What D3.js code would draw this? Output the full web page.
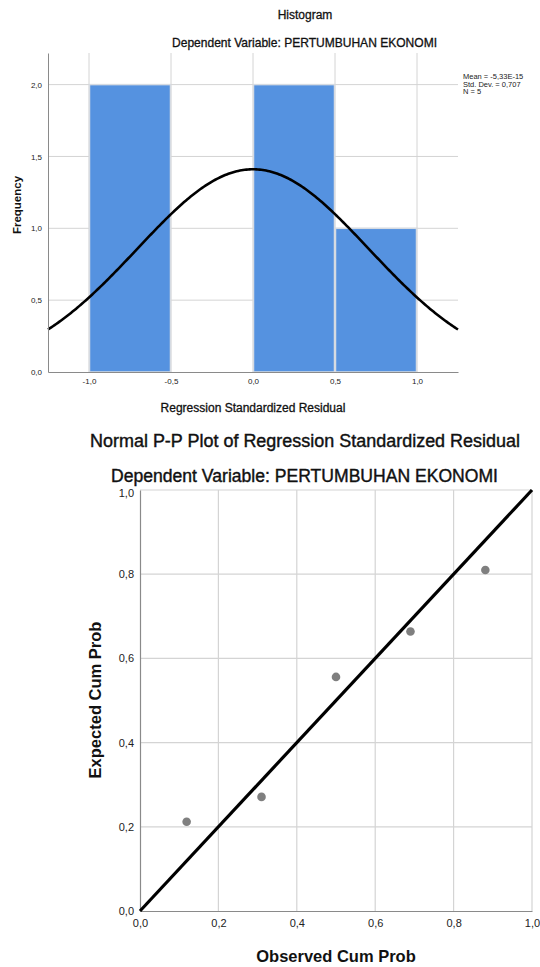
<!DOCTYPE html>
<html>
<head>
<meta charset="utf-8">
<script src="https://cdn.jsdelivr.net/npm/d3@7"></script>
<style>
  html, body { margin: 0; padding: 0; background: #fff; }
  svg { display: block; font-family: "Liberation Sans", Arial, sans-serif; }
</style>
</head>
<body>
<svg id="chart" width="540" height="967"></svg>
<script>
// ---------- Histogram data ----------
const histTitle = "Histogram";
const depTitle = "Dependent Variable: PERTUMBUHAN EKONOMI";
const binStarts = [-1.0, -0.5, 0.0, 0.5];
const binEnds   = [-0.5,  0.0, 0.5, 1.0];
const binCounts = [2, 0, 2, 1];
const histXTicks = [-1.0, -0.5, 0.0, 0.5, 1.0];
const histYTicks = [0.0, 0.5, 1.0, 1.5, 2.0];
const statsLines = ["Mean = -5,33E-15", "Std. Dev. = 0,707", "N = 5"];
const fitMean = 0;
const fitSd = 0.707;
const fitN = 5;
const fitBinWidth = 0.5;

// ---------- P-P plot data ----------
const ppTitle = "Normal P-P Plot of Regression Standardized Residual";
const observedCum = [0.119, 0.310, 0.500, 0.690, 0.881];
const expectedCum = [0.212, 0.271, 0.556, 0.664, 0.810];
const ppTicks = [0.0, 0.2, 0.4, 0.6, 0.8, 1.0];

const fmt = d => d3.format(".1f")(d).replace("\u2212", "-").replace(".", ",");
const svg = d3.select("#chart");

// ================= Histogram =================
{
  const x = d3.scaleLinear().domain([-1.25, 1.25]).range([48, 458]);
  const y = d3.scaleLinear().domain([0, 2.22]).range([372, 53]);
  const g = svg.append("g");

  // grid
  g.append("g").selectAll("line").data(histXTicks).join("line")
    .attr("x1", d => x(d)).attr("x2", d => x(d))
    .attr("y1", y.range()[0]).attr("y2", y.range()[1])
    .attr("stroke", "#d4d4d4").attr("stroke-width", 1);
  g.append("g").selectAll("line").data(histYTicks.filter(d => d > 0)).join("line")
    .attr("x1", x.range()[0]).attr("x2", x.range()[1])
    .attr("y1", d => y(d)).attr("y2", d => y(d))
    .attr("stroke", "#d4d4d4").attr("stroke-width", 1);

  // bars
  const bins = binStarts.map((s, i) => ({ s, e: binEnds[i], c: binCounts[i] })).filter(b => b.c > 0);
  g.append("g").selectAll("rect").data(bins).join("rect")
    .attr("x", d => x(d.s) + 0.5)
    .attr("width", d => x(d.e) - x(d.s) - 1)
    .attr("y", d => y(d.c))
    .attr("height", d => y(0) - y(d.c))
    .attr("fill", "#5592e0")
    .attr("stroke", "#d6dbe2").attr("stroke-width", 1.5);

  // fitted normal curve (from the stated mean, std. dev. and N)
  const dens = v => fitN * fitBinWidth / (fitSd * Math.sqrt(2 * Math.PI)) * Math.exp(-0.5 * Math.pow((v - fitMean) / fitSd, 2));
  const xs = d3.range(-1.25, 1.2501, 0.01);
  g.append("path").datum(xs)
    .attr("d", d3.line().x(d => x(d)).y(d => y(dens(d))))
    .attr("fill", "none").attr("stroke", "#000").attr("stroke-width", 2.6);

  // axes
  const ax = g.append("g").attr("transform", `translate(0,${y(0)})`)
    .call(d3.axisBottom(x).tickValues(histXTicks).tickFormat(fmt).tickSize(0).tickPadding(6));
  ax.select(".domain").attr("stroke", "#8a8a8a");
  ax.selectAll("text").attr("font-size", 8).attr("fill", "#222").attr("font-family", "Liberation Sans, Arial");
  const ay = g.append("g").attr("transform", `translate(${x.range()[0]},0)`)
    .call(d3.axisLeft(y).tickValues(histYTicks).tickFormat(fmt).tickSize(0).tickPadding(6));
  ay.select(".domain").attr("stroke", "#8a8a8a");
  ay.selectAll("text").attr("font-size", 8).attr("fill", "#222").attr("font-family", "Liberation Sans, Arial");

  // titles
  const heavy = sel => sel.attr("stroke", "#111").attr("stroke-width", 0.3);
  g.append("text").attr("x", 305).attr("y", 19).attr("text-anchor", "middle")
    .attr("font-size", 12).attr("fill", "#111").call(heavy).text(histTitle);
  g.append("text").attr("x", 304.5).attr("y", 47).attr("text-anchor", "middle")
    .attr("font-size", 12.2).attr("fill", "#111").call(heavy)
    .attr("textLength", 265).attr("lengthAdjust", "spacingAndGlyphs").text(depTitle);
  g.append("text").attr("x", 253).attr("y", 412).attr("text-anchor", "middle")
    .attr("font-size", 12).attr("fill", "#111").call(heavy).text("Regression Standardized Residual");
  g.append("text").attr("transform", "translate(21,205) rotate(-90)").attr("text-anchor", "middle")
    .attr("font-size", 11.5).attr("font-weight", "bold").attr("fill", "#111").text("Frequency");

  g.append("g").selectAll("text").data(statsLines).join("text")
    .attr("x", 463).attr("y", (d, i) => 79 + i * 7.5)
    .attr("font-size", 7.5).attr("fill", "#222").text(d => d);
}

// ================= P-P Plot =================
{
  const x = d3.scaleLinear().domain([0, 1]).range([140, 532]);
  const y = d3.scaleLinear().domain([0, 1]).range([911, 490]);
  const g = svg.append("g");

  g.append("g").selectAll("line").data(ppTicks.filter(d => d > 0)).join("line")
    .attr("x1", d => x(d)).attr("x2", d => x(d))
    .attr("y1", y(0)).attr("y2", y(1))
    .attr("stroke", "#d4d4d4").attr("stroke-width", 1.2);
  g.append("g").selectAll("line").data(ppTicks.filter(d => d > 0)).join("line")
    .attr("x1", x(0)).attr("x2", x(1))
    .attr("y1", d => y(d)).attr("y2", d => y(d))
    .attr("stroke", "#d4d4d4").attr("stroke-width", 1.2);

  const ax = g.append("g").attr("transform", `translate(0,${y(0)})`)
    .call(d3.axisBottom(x).tickValues(ppTicks).tickFormat(fmt).tickSize(0).tickPadding(8));
  ax.select(".domain").attr("stroke", "#8a8a8a").attr("stroke-width", 1.2);
  ax.selectAll("text").attr("font-size", 11).attr("fill", "#222").attr("font-family", "Liberation Sans, Arial");
  const ay = g.append("g").attr("transform", `translate(${x(0)},0)`)
    .call(d3.axisLeft(y).tickValues(ppTicks).tickFormat(fmt).tickSize(0).tickPadding(6));
  ay.select(".domain").attr("stroke", "#8a8a8a").attr("stroke-width", 1.2);
  ay.selectAll("text").attr("font-size", 11).attr("fill", "#222").attr("font-family", "Liberation Sans, Arial");
  ay.selectAll("text").filter(d => d === 1).attr("dy", "0.55em");

  // diagonal reference line
  g.append("line")
    .attr("x1", x(0)).attr("y1", y(0)).attr("x2", x(1)).attr("y2", y(1))
    .attr("stroke", "#000").attr("stroke-width", 3.2);

  const pts = observedCum.map((o, i) => ({ o, e: expectedCum[i] }));
  g.append("g").selectAll("circle").data(pts).join("circle")
    .attr("cx", d => x(d.o)).attr("cy", d => y(d.e)).attr("r", 4.3)
    .attr("fill", "#7f7f7f");

  const heavy = sel => sel.attr("stroke", "#111").attr("stroke-width", 0.4);
  g.append("text").attr("x", 305).attr("y", 447).attr("text-anchor", "middle")
    .attr("font-size", 17.5).attr("fill", "#111").call(heavy)
    .attr("textLength", 430).attr("lengthAdjust", "spacingAndGlyphs").text(ppTitle);
  g.append("text").attr("x", 304.5).attr("y", 482).attr("text-anchor", "middle")
    .attr("font-size", 17.5).attr("fill", "#111").call(heavy)
    .attr("textLength", 387).attr("lengthAdjust", "spacingAndGlyphs").text(depTitle);
  g.append("text").attr("x", 336).attr("y", 962).attr("text-anchor", "middle")
    .attr("font-size", 16.5).attr("font-weight", "bold").attr("fill", "#111").text("Observed Cum Prob");
  g.append("text").attr("transform", "translate(101,700) rotate(-90)").attr("text-anchor", "middle")
    .attr("font-size", 16.5).attr("font-weight", "bold").attr("fill", "#111").text("Expected Cum Prob");
}
</script>
</body>
</html>
